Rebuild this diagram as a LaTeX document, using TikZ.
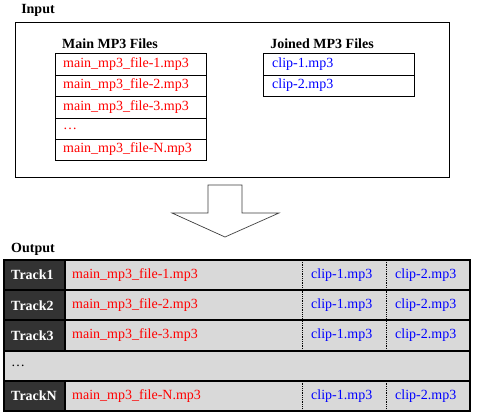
\documentclass[tikz,border=0pt]{standalone}
\usepackage{fontspec}
\setmainfont{Liberation Serif}
\definecolor{cellgray}{RGB}{217,217,217}
\definecolor{trackdark}{RGB}{51,51,51}
\definecolor{arrowline}{RGB}{60,60,60}

\begin{document}
\begin{tikzpicture}[x=1pt,y=-1pt,
  title/.style={font=\fontsize{14}{16}\selectfont\bfseries},
  mainfile/.style={anchor=west,inner sep=0pt,text=red,font=\fontsize{14}{16}\selectfont},
  clipfile/.style={anchor=west,inner sep=0pt,text=blue,font=\fontsize{14}{16}\selectfont},
  trackname/.style={anchor=west,inner sep=0pt,text=white,font=\fontsize{14}{16}\selectfont\bfseries}]
\useasboundingbox (0,0) rectangle (480,418);

% input part
\node[title] (input) at (38,10) {Input};
\draw[line width=0.9pt] (15,22) rectangle (449,177);

\node[title] (maintitle) at (110,44) {Main MP3 Files};
\draw[line width=0.9pt] (55,53) rectangle (206,160);
\draw[line width=0.9pt] (55,75) -- (206,75) (55,96) -- (206,96) (55,118) -- (206,118) (55,139) -- (206,139);
\node[mainfile] (main1) at (63,64) {main\_mp3\_file-1.mp3};
\node[mainfile] (main2) at (63,85.5) {main\_mp3\_file-2.mp3};
\node[mainfile] (main3) at (63,107) {main\_mp3\_file-3.mp3};
\node[mainfile] (maindots) at (63,128.5) {\dots};
\node[mainfile] (mainN) at (63,149.5) {main\_mp3\_file-N.mp3};

\node[title] (jointitle) at (322,44) {Joined MP3 Files};
\draw[line width=0.9pt] (263,53) rectangle (414,96);
\draw[line width=0.9pt] (263,75) -- (414,75);
\node[clipfile] (join1) at (272,64) {clip-1.mp3};
\node[clipfile] (join2) at (272,85.5) {clip-2.mp3};

% block arrow
\draw[arrowline,line width=0.7pt] (208,185) -- (242,185) -- (242,213) -- (279,213)
  -- (225,237) -- (172,213) -- (208,213) -- cycle;

% output part
\node[title] (output) at (33,249) {Output};
\fill[cellgray] (4,260) rectangle (470,411);
\fill[trackdark] (4,260) rectangle (65,350.6);
\fill[trackdark] (4,380.8) rectangle (65,411);
\draw[line width=2pt] (4,290.2) -- (470,290.2) (4,320.4) -- (470,320.4)
  (4,350.6) -- (470,350.6) (4,380.8) -- (470,380.8);
\draw[line width=2pt] (65,260) -- (65,350.6) (65,380.8) -- (65,411);
\draw[densely dotted,line width=0.8pt] (302,260) -- (302,350.6) (302,380.8) -- (302,411)
  (386,260) -- (386,350.6) (386,380.8) -- (386,411);
\draw[line width=2pt] (4,260) rectangle (470,411);

\node[trackname] (track1) at (11,275.1) {Track1};
\node[trackname] (track2) at (11,305.3) {Track2};
\node[trackname] (track3) at (11,335.5) {Track3};
\node[anchor=west,inner sep=0pt,font=\fontsize{14}{16}\selectfont] (outdots) at (11,365.7) {\dots};
\node[trackname] (trackN) at (11,395.9) {TrackN};

\node[mainfile] (out1) at (72,275.1) {main\_mp3\_file-1.mp3};
\node[mainfile] (out2) at (72,305.3) {main\_mp3\_file-2.mp3};
\node[mainfile] (out3) at (72,335.5) {main\_mp3\_file-3.mp3};
\node[mainfile] (outN) at (72,395.9) {main\_mp3\_file-N.mp3};

\node[clipfile] (c11) at (311,275.1) {clip-1.mp3};
\node[clipfile] (c12) at (395,275.1) {clip-2.mp3};
\node[clipfile] (c21) at (311,305.3) {clip-1.mp3};
\node[clipfile] (c22) at (395,305.3) {clip-2.mp3};
\node[clipfile] (c31) at (311,335.5) {clip-1.mp3};
\node[clipfile] (c32) at (395,335.5) {clip-2.mp3};
\node[clipfile] (cN1) at (311,395.9) {clip-1.mp3};
\node[clipfile] (cN2) at (395,395.9) {clip-2.mp3};
\end{tikzpicture}
\end{document}
